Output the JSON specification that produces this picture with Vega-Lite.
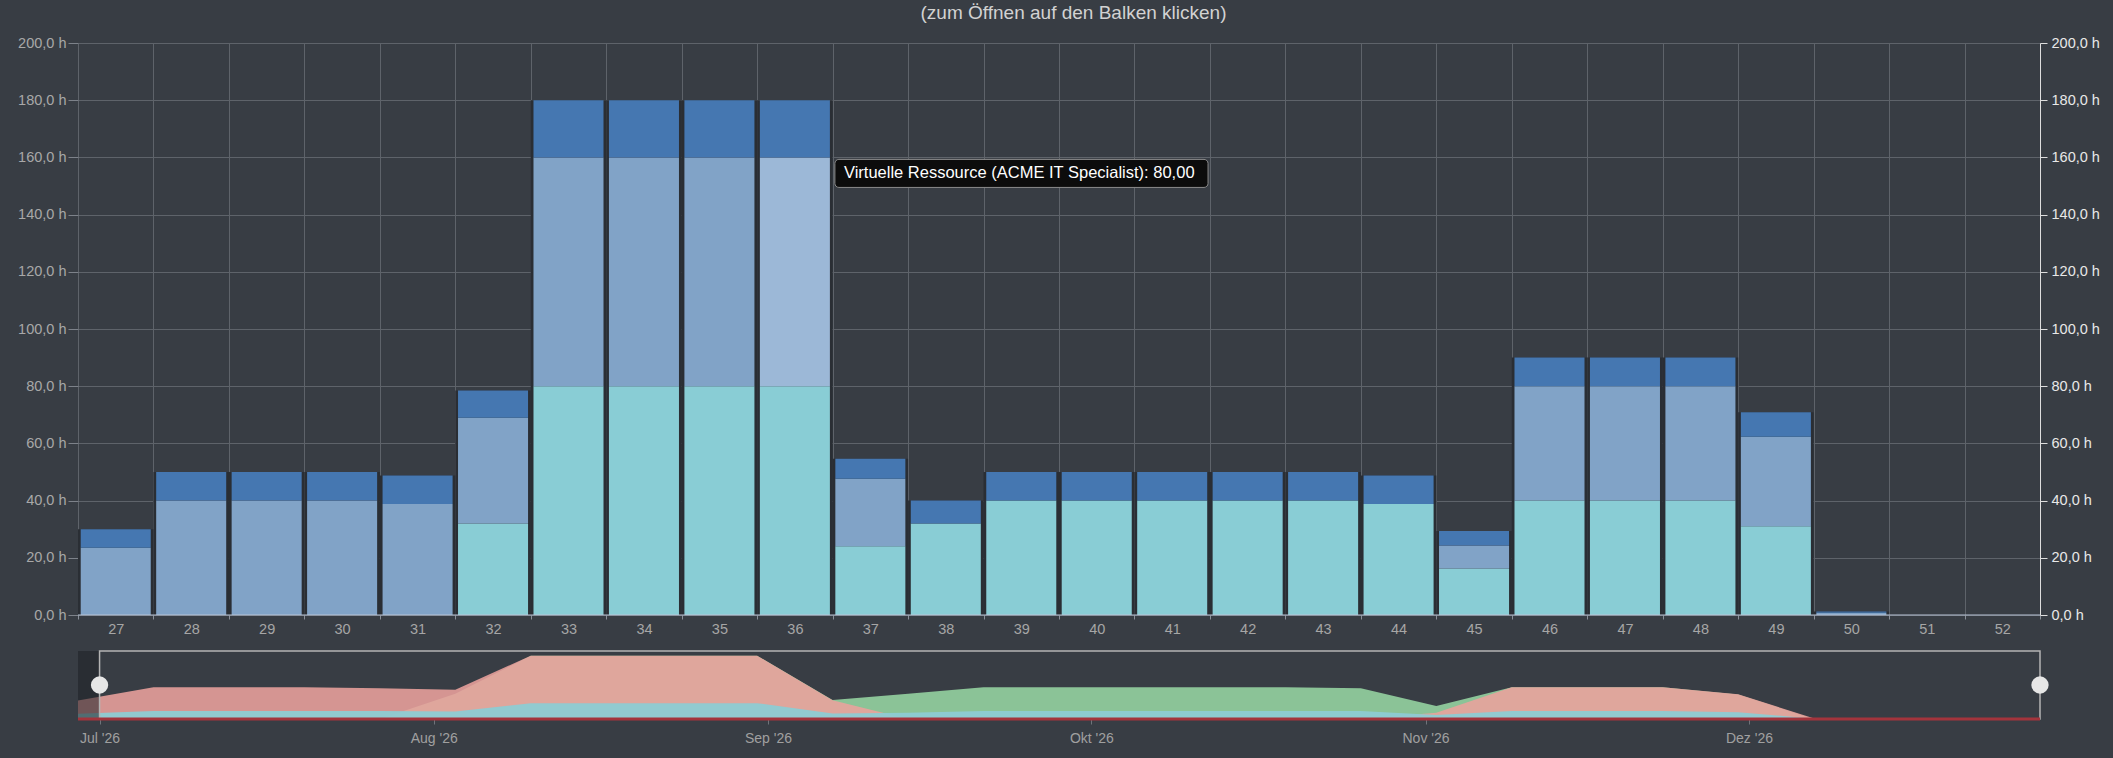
{
  "$schema": "https://vega.github.io/schema/vega-lite/v6.json",
  "background": "#383d44",
  "padding": {"left": 17, "top": 4, "right": 15, "bottom": 14},
  "title": {"text": "(zum Öffnen auf den Balken klicken)", "color": "#d2d2d2", "fontSize": 19, "fontWeight": "normal", "font": "Liberation Sans", "anchor": "middle", "dx": 15, "offset": 12},
  "datasets": {
    "w": [
      {"week": "27", "start": "2026-06-29", "series": "Intern", "hours": 0},
      {"week": "27", "start": "2026-06-29", "series": "Virtuell", "hours": 23.5},
      {"week": "27", "start": "2026-06-29", "series": "Weitere", "hours": 6.5},
      {"week": "28", "start": "2026-07-06", "series": "Intern", "hours": 0},
      {"week": "28", "start": "2026-07-06", "series": "Virtuell", "hours": 40},
      {"week": "28", "start": "2026-07-06", "series": "Weitere", "hours": 10},
      {"week": "29", "start": "2026-07-13", "series": "Intern", "hours": 0},
      {"week": "29", "start": "2026-07-13", "series": "Virtuell", "hours": 40},
      {"week": "29", "start": "2026-07-13", "series": "Weitere", "hours": 10},
      {"week": "30", "start": "2026-07-20", "series": "Intern", "hours": 0},
      {"week": "30", "start": "2026-07-20", "series": "Virtuell", "hours": 40},
      {"week": "30", "start": "2026-07-20", "series": "Weitere", "hours": 10},
      {"week": "31", "start": "2026-07-27", "series": "Intern", "hours": 0},
      {"week": "31", "start": "2026-07-27", "series": "Virtuell", "hours": 38.8},
      {"week": "31", "start": "2026-07-27", "series": "Weitere", "hours": 10},
      {"week": "32", "start": "2026-08-03", "series": "Intern", "hours": 32},
      {"week": "32", "start": "2026-08-03", "series": "Virtuell", "hours": 37},
      {"week": "32", "start": "2026-08-03", "series": "Weitere", "hours": 9.5},
      {"week": "33", "start": "2026-08-10", "series": "Intern", "hours": 80},
      {"week": "33", "start": "2026-08-10", "series": "Virtuell", "hours": 80},
      {"week": "33", "start": "2026-08-10", "series": "Weitere", "hours": 20},
      {"week": "34", "start": "2026-08-17", "series": "Intern", "hours": 80},
      {"week": "34", "start": "2026-08-17", "series": "Virtuell", "hours": 80},
      {"week": "34", "start": "2026-08-17", "series": "Weitere", "hours": 20},
      {"week": "35", "start": "2026-08-24", "series": "Intern", "hours": 80},
      {"week": "35", "start": "2026-08-24", "series": "Virtuell", "hours": 80},
      {"week": "35", "start": "2026-08-24", "series": "Weitere", "hours": 20},
      {"week": "36", "start": "2026-08-31", "series": "Intern", "hours": 80},
      {"week": "36", "start": "2026-08-31", "series": "Virtuell", "hours": 80},
      {"week": "36", "start": "2026-08-31", "series": "Weitere", "hours": 20},
      {"week": "37", "start": "2026-09-07", "series": "Intern", "hours": 24},
      {"week": "37", "start": "2026-09-07", "series": "Virtuell", "hours": 23.6},
      {"week": "37", "start": "2026-09-07", "series": "Weitere", "hours": 7},
      {"week": "38", "start": "2026-09-14", "series": "Intern", "hours": 32},
      {"week": "38", "start": "2026-09-14", "series": "Virtuell", "hours": 0},
      {"week": "38", "start": "2026-09-14", "series": "Weitere", "hours": 8},
      {"week": "39", "start": "2026-09-21", "series": "Intern", "hours": 40},
      {"week": "39", "start": "2026-09-21", "series": "Virtuell", "hours": 0},
      {"week": "39", "start": "2026-09-21", "series": "Weitere", "hours": 10},
      {"week": "40", "start": "2026-09-28", "series": "Intern", "hours": 40},
      {"week": "40", "start": "2026-09-28", "series": "Virtuell", "hours": 0},
      {"week": "40", "start": "2026-09-28", "series": "Weitere", "hours": 10},
      {"week": "41", "start": "2026-10-05", "series": "Intern", "hours": 40},
      {"week": "41", "start": "2026-10-05", "series": "Virtuell", "hours": 0},
      {"week": "41", "start": "2026-10-05", "series": "Weitere", "hours": 10},
      {"week": "42", "start": "2026-10-12", "series": "Intern", "hours": 40},
      {"week": "42", "start": "2026-10-12", "series": "Virtuell", "hours": 0},
      {"week": "42", "start": "2026-10-12", "series": "Weitere", "hours": 10},
      {"week": "43", "start": "2026-10-19", "series": "Intern", "hours": 40},
      {"week": "43", "start": "2026-10-19", "series": "Virtuell", "hours": 0},
      {"week": "43", "start": "2026-10-19", "series": "Weitere", "hours": 10},
      {"week": "44", "start": "2026-10-26", "series": "Intern", "hours": 38.8},
      {"week": "44", "start": "2026-10-26", "series": "Virtuell", "hours": 0},
      {"week": "44", "start": "2026-10-26", "series": "Weitere", "hours": 10},
      {"week": "45", "start": "2026-11-02", "series": "Intern", "hours": 16.3},
      {"week": "45", "start": "2026-11-02", "series": "Virtuell", "hours": 8},
      {"week": "45", "start": "2026-11-02", "series": "Weitere", "hours": 5.1},
      {"week": "46", "start": "2026-11-09", "series": "Intern", "hours": 40},
      {"week": "46", "start": "2026-11-09", "series": "Virtuell", "hours": 40},
      {"week": "46", "start": "2026-11-09", "series": "Weitere", "hours": 10},
      {"week": "47", "start": "2026-11-16", "series": "Intern", "hours": 40},
      {"week": "47", "start": "2026-11-16", "series": "Virtuell", "hours": 40},
      {"week": "47", "start": "2026-11-16", "series": "Weitere", "hours": 10},
      {"week": "48", "start": "2026-11-23", "series": "Intern", "hours": 40},
      {"week": "48", "start": "2026-11-23", "series": "Virtuell", "hours": 40},
      {"week": "48", "start": "2026-11-23", "series": "Weitere", "hours": 10},
      {"week": "49", "start": "2026-11-30", "series": "Intern", "hours": 31},
      {"week": "49", "start": "2026-11-30", "series": "Virtuell", "hours": 31.3},
      {"week": "49", "start": "2026-11-30", "series": "Weitere", "hours": 8.6},
      {"week": "50", "start": "2026-12-07", "series": "Intern", "hours": 0},
      {"week": "50", "start": "2026-12-07", "series": "Virtuell", "hours": 0.8},
      {"week": "50", "start": "2026-12-07", "series": "Weitere", "hours": 0.4},
      {"week": "51", "start": "2026-12-14", "series": "Intern", "hours": 0},
      {"week": "51", "start": "2026-12-14", "series": "Virtuell", "hours": 0},
      {"week": "51", "start": "2026-12-14", "series": "Weitere", "hours": 0},
      {"week": "52", "start": "2026-12-21", "series": "Intern", "hours": 0},
      {"week": "52", "start": "2026-12-21", "series": "Virtuell", "hours": 0},
      {"week": "52", "start": "2026-12-21", "series": "Weitere", "hours": 0}
    ]
  },
  "data": {"name": "w"},
  "spacing": 36,
  "bounds": "flush",
  "vconcat": [
    {
      "width": 1962,
      "height": 572,
      "layer": [
        {
          "mark": {"type": "bar", "width": {"band": 1}, "color": "#2a2e34"},
          "encoding": {
            "x": {"field": "week", "type": "ordinal", "scale": {"paddingInner": 0, "paddingOuter": 0},
              "axis": {"title": null, "labelAngle": 0, "tickBand": "extent", "grid": true, "gridColor": "#5e636a", "domain": false, "tickSize": 4, "tickColor": "#8a9099", "labelColor": "#a6a6a6", "labelFontSize": 14.5, "labelPadding": 3.5}},
            "y": {"aggregate": "sum", "field": "hours", "type": "quantitative", "scale": {"domain": [0, 200], "nice": false},
              "axis": {"orient": "right", "title": null, "values": [0, 20, 40, 60, 80, 100, 120, 140, 160, 180, 200], "labelExpr": "replace(format(datum.value, '.1f'), '.', ',') + ' h'", "grid": false, "domain": true, "domainColor": "#dedede", "tickColor": "#dedede", "tickSize": 7, "labelPadding": 4, "labelColor": "#e8e8e8", "labelFontSize": 14.5}}
          }
        },
        {
          "mark": {"type": "bar", "width": {"band": 0.928}},
          "encoding": {
            "x": {"field": "week", "type": "ordinal"},
            "y": {"field": "hours", "type": "quantitative", "stack": "zero", "scale": {"domain": [0, 200], "nice": false},
              "axis": {"orient": "left", "title": null, "values": [0, 20, 40, 60, 80, 100, 120, 140, 160, 180, 200], "labelExpr": "replace(format(datum.value, '.1f'), '.', ',') + ' h'", "grid": true, "gridColor": "#5e636a", "domain": false, "tickColor": "#7d828a", "tickSize": 10, "labelPadding": 2, "labelColor": "#a8a8a8", "labelFontSize": 14.5}},
            "color": {
              "condition": {"test": "datum.week == '36' && datum.series == 'Virtuell'", "value": "#9cb8d7"},
              "field": "series", "type": "nominal",
              "scale": {"domain": ["Intern", "Virtuell", "Weitere"], "range": ["#89cdd5", "#81a3c7", "#4577b1"]},
              "legend": null
            },
            "order": {"field": "series", "sort": "ascending"}
          }
        },
        {
          "data": {"values": [{}]},
          "mark": {"type": "rule", "color": "#b8c4d6", "strokeWidth": 1},
          "encoding": {"y": {"datum": 0, "axis": null}}
        },
        {
          "data": {"values": [{}]},
          "mark": {"type": "rect", "cornerRadius": 4, "fill": "#0c0c0c", "stroke": "#8c8c8c", "strokeWidth": 1},
          "encoding": {
            "x": {"datum": "37", "bandPosition": 0.03},
            "x2": {"datum": "41", "bandPosition": 0.975},
            "y": {"datum": 149.5, "axis": null},
            "y2": {"datum": 159.3}
          }
        },
        {
          "data": {"values": [{}]},
          "mark": {"type": "text", "align": "left", "baseline": "middle", "color": "#ffffff", "fontSize": 16.5, "font": "Liberation Sans"},
          "encoding": {
            "x": {"datum": "37", "bandPosition": 0.15},
            "y": {"datum": 154.4, "axis": null},
            "text": {"value": "Virtuelle Ressource (ACME IT Specialist): 80,00"}
          }
        }
      ],
      "resolve": {"axis": {"y": "independent"}}
    },
    {
      "width": 1962,
      "height": 68,
      "layer": [
        {
          "transform": [{"filter": "datum.series == 'Intern'"}],
          "mark": {"type": "area", "color": "#8fca9c", "opacity": 0.95},
          "encoding": {
            "x": {"field": "start", "type": "temporal",
              "scale": {"type": "utc", "nice": false, "domain": [{"year": 2026, "month": 6, "date": 29, "utc": true}, {"year": 2026, "month": 12, "date": 28, "utc": true}]},
              "axis": {"title": null, "values": [{"year": 2026, "month": 7, "date": 1, "utc": true}, {"year": 2026, "month": 8, "date": 1, "utc": true}, {"year": 2026, "month": 9, "date": 1, "utc": true}, {"year": 2026, "month": 10, "date": 1, "utc": true}, {"year": 2026, "month": 11, "date": 1, "utc": true}, {"year": 2026, "month": 12, "date": 1, "utc": true}],
                "labelExpr": "['Jan','Feb','Mär','Apr','Mai','Jun','Jul','Aug','Sep','Okt','Nov','Dez'][utcmonth(datum.value)] + \" '\" + utcFormat(datum.value, '%y')",
                "domain": false, "grid": false, "tickSize": 5, "tickColor": "#6f747b", "labelColor": "#a0a0a0", "labelFontSize": 14, "labelPadding": 7, "labelFlush": false}},
            "y": {"field": "hours", "type": "quantitative", "scale": {"domain": [0, 86], "nice": false}, "axis": null}
          }
        },
        {
          "transform": [{"filter": "datum.series == 'Virtuell'"}],
          "mark": {"type": "area", "color": "#eaa29d", "opacity": 0.88},
          "encoding": {
            "x": {"field": "start", "type": "temporal"},
            "y": {"field": "hours", "type": "quantitative"}
          }
        },
        {
          "transform": [{"filter": "datum.series == 'Weitere'"}],
          "mark": {"type": "area", "color": "#8dcbd3", "opacity": 0.95},
          "encoding": {
            "x": {"field": "start", "type": "temporal"},
            "y": {"field": "hours", "type": "quantitative"}
          }
        },
        {
          "data": {"values": [{}]},
          "mark": {"type": "rect", "color": "#1e2126", "opacity": 0.55},
          "encoding": {
            "x": {"datum": {"year": 2026, "month": 6, "date": 29, "utc": true}},
            "x2": {"datum": {"year": 2026, "month": 7, "date": 1, "utc": true}}
          }
        },
        {
          "data": {"values": [{}]},
          "mark": {"type": "rect", "fill": "transparent", "stroke": "#b4b4b4", "strokeWidth": 1.5},
          "encoding": {
            "x": {"datum": {"year": 2026, "month": 7, "date": 1, "utc": true}},
            "x2": {"datum": {"year": 2026, "month": 12, "date": 28, "utc": true}}
          }
        },
        {
          "data": {"values": [{}]},
          "mark": {"type": "rule", "color": "#a3343c", "strokeWidth": 3},
          "encoding": {"y": {"datum": 0}}
        },
        {
          "data": {"values": [{}]},
          "mark": {"type": "point", "filled": true, "shape": "circle", "size": 300, "color": "#e6e6e6", "opacity": 1},
          "encoding": {
            "x": {"datum": {"year": 2026, "month": 7, "date": 1, "utc": true}},
            "y": {"datum": 43}
          }
        },
        {
          "data": {"values": [{}]},
          "mark": {"type": "point", "filled": true, "shape": "circle", "size": 300, "color": "#e6e6e6", "opacity": 1},
          "encoding": {
            "x": {"datum": {"year": 2026, "month": 12, "date": 28, "utc": true}},
            "y": {"datum": 43}
          }
        }
      ]
    }
  ],
  "config": {
    "view": {"stroke": null},
    "font": "Liberation Sans",
    "axis": {"labelFont": "Liberation Sans"}
  }
}
